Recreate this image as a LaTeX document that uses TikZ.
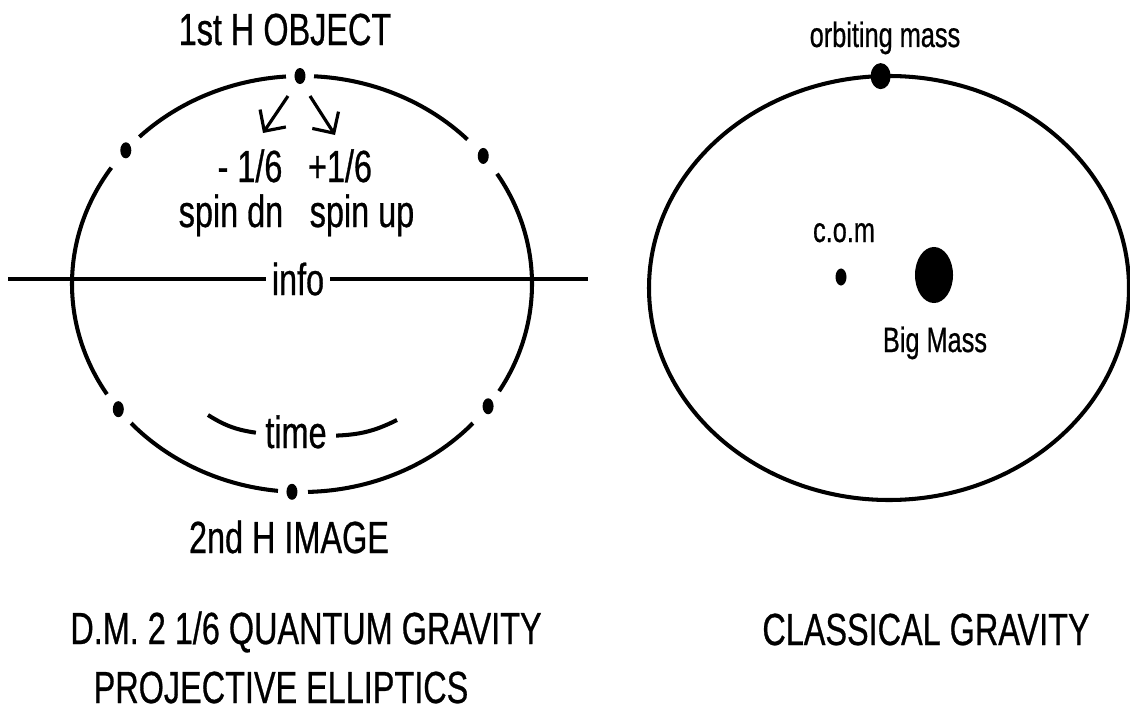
\documentclass[tikz,border=0pt]{standalone}
\usepackage{fontspec}
\setmainfont[FakeStretch=0.72,UprightFeatures={FakeBold=0.6}]{Liberation Sans}
\usetikzlibrary{arrows.meta,calc,shapes.geometric}

\begin{document}
\begin{tikzpicture}[x=0.01cm,y=0.01cm,
    orbit/.style={line width=1.15pt},
    spinarrow/.style={line width=0.9pt,-{Straight Barb[angle=90:2.2mm]}},
    qdot/.style={ellipse,fill,inner sep=0pt,minimum width=1.1mm,minimum height=1.6mm},
    mass/.style={ellipse,fill,inner sep=0pt},
    bigtext/.style={font=\fontsize{12.8}{15}\selectfont,inner sep=0pt},
    smalltext/.style={font=\fontsize{10}{12}\selectfont,inner sep=0pt}]
  \useasboundingbox (0,0) rectangle (1130,-709);
  % projective ellipse, broken at the six points
  \coordinate (L) at (302,-284);
  \foreach \s/\e in {44/87,94/135,146/212,222/264,271.5/318,329/392}
    \draw[orbit] ($(L)+(\s:230 and 208)$) arc[start angle=\s,end angle=\e,x radius=230,y radius=208];
  \foreach \t/\n in {38/ur,90.5/top,140/ul,217/ll,267.5/bot,324/lr}
    \node[qdot] (\n) at ($(L)+(\t:230 and 208)$) {};
  \node[bigtext,anchor=base] (obj) at (285,-45) {1st H OBJECT};
  \node[bigtext,anchor=base] (img) at (289,-553) {2nd H IMAGE};
  \coordinate (dnTip) at (263,-133);
  \coordinate (upTip) at (335,-135);
  \draw[spinarrow] ([shift={(-12,-20)}]top.center) -- (dnTip);
  \draw[spinarrow] ([shift={(10,-20)}]top.center) -- (upTip);
  \node[bigtext,anchor=base] (mdn) at (250,-182) {- 1/6};
  \node[bigtext,anchor=base] (pup) at (340,-182) {+1/6};
  \node[bigtext,anchor=base] (sdn) at (231,-227) {spin dn};
  \node[bigtext,anchor=base] (spup) at (362,-227) {spin up};
  % info line
  \coordinate (infoL) at (8,-279);
  \coordinate (infoR) at (588,-279);
  \node[bigtext,inner sep=1.5pt] (info) at (298,-279) {info};
  \draw[line width=1.3pt] (infoL) -- (info) -- (infoR);
  % time
  \coordinate (timeL) at (208,-415);
  \coordinate (timeR) at (397,-420);
  \node[bigtext,inner sep=2.5pt,anchor=base] (time) at (296,-448) {time};
  \draw[orbit] (timeL) to[bend right=12] (time);
  \draw[orbit] (time) to[bend right=12] (timeR);
  % classical orbit
  \coordinate (R) at (889,-288);
  \draw[orbit] (R) ellipse[x radius=240,y radius=212];
  \node[mass,minimum width=2mm,minimum height=2.6mm] (orb) at ($(R)+(92:240 and 212)$) {};
  \node[smalltext,anchor=base] (orbl) at (885,-47) {orbiting mass};
  \node[mass,minimum width=1.1mm,minimum height=1.7mm] (com) at (841,-277) {};
  \node[smalltext,anchor=base] (coml) at (844,-242) {c.o.m};
  \node[mass,minimum width=3.8mm,minimum height=5.6mm] (bigmass) at (934,-275) {};
  \node[smalltext,anchor=base] (bigl) at (935,-352) {Big Mass};
  % titles
  \node[bigtext,anchor=base] (qg) at (306,-644) {D.M. 2 1/6 QUANTUM GRAVITY};
  \node[bigtext,anchor=base] (pe) at (281,-703) {PROJECTIVE ELLIPTICS};
  \node[bigtext,anchor=base] (cg) at (926,-645) {CLASSICAL GRAVITY};
\end{tikzpicture}
\end{document}
